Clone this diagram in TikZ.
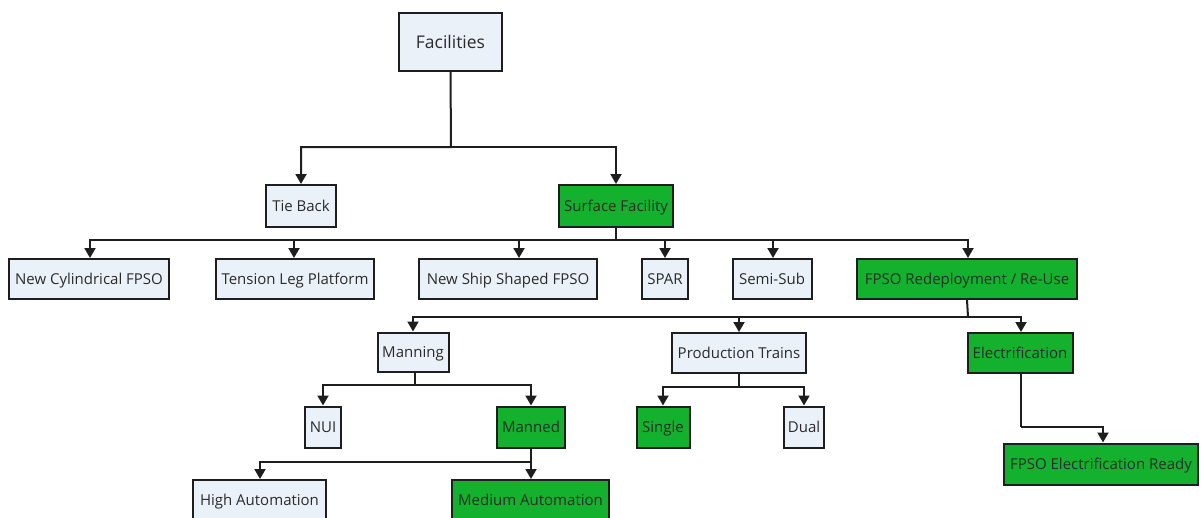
\documentclass[tikz,border=0pt]{standalone}
\usepackage{fontspec}
\setmainfont{Open Sans}
\usetikzlibrary{arrows.meta}
\definecolor{lite}{HTML}{EBF1F8}
\definecolor{grn}{HTML}{13B12E}
\definecolor{edge}{HTML}{1E1E1E}
\definecolor{ink}{HTML}{2B2B2B}
\begin{document}
\begin{tikzpicture}[x=1pt,y=-1pt,
  box/.style={draw=edge,line width=2pt,inner sep=0pt,text=ink,
    text height=14.25pt,text depth=3.54pt,font=\fontsize{15}{18}\selectfont},
  litebox/.style={box,fill=lite},
  grnbox/.style={box,fill=grn},
  arr/.style={draw=edge,line width=2pt,-{Triangle[width=11pt,length=10pt]}},
  ln/.style={draw=edge,line width=2pt}]
\useasboundingbox (0,0) rectangle (1201,517);
\clip (0,0) rectangle (1201,517);
\fill[white] (0,0) rectangle (1201,517);

% level 0
\node[litebox,minimum width=103pt,minimum height=58pt,text height=16.6pt,text depth=4.1pt,
  font=\fontsize{17.5}{20}\selectfont] (fac) at (450.5,42) {Facilities};
% level 1
\node[litebox,minimum width=70pt,minimum height=42pt] (tb) at (301,206) {Tie Back};
\node[grnbox,minimum width=114pt,minimum height=42pt] (sf) at (616,206) {Surface Facility};
% level 2
\node[litebox,minimum width=160pt,minimum height=40pt] (ncf) at (89,279) {New Cylindrical FPSO};
\node[litebox,minimum width=158pt,minimum height=40pt] (tlp) at (295,279) {Tension Leg Platform};
\node[litebox,minimum width=178pt,minimum height=40pt] (nss) at (508,279) {New Ship Shaped FPSO};
\node[litebox,minimum width=46pt,minimum height=40pt] (spar) at (665,279) {SPAR};
\node[litebox,minimum width=79pt,minimum height=40pt] (semi) at (772,279) {Semi-Sub};
\node[grnbox,minimum width=220pt,minimum height=40pt] (fred) at (967,279) {FPSO Redeployment / Re-Use};
% level 3
\node[litebox,minimum width=71pt,minimum height=39pt] (man) at (413,352) {Manning};
\node[litebox,minimum width=134pt,minimum height=40pt] (pt) at (739,353) {Production Trains};
\node[grnbox,minimum width=105pt,minimum height=40pt] (el) at (1020,353) {Electrification};
% level 4
\node[litebox,minimum width=36pt,minimum height=41pt] (nui) at (323,427) {NUI};
\node[grnbox,minimum width=68pt,minimum height=41pt] (mand) at (531,427) {Manned};
\node[grnbox,minimum width=53pt,minimum height=41pt] (single) at (663,427) {Single};
\node[litebox,minimum width=40pt,minimum height=41pt] (dual) at (804,427) {Dual};
\node[grnbox,minimum width=194pt,minimum height=41pt] (fer) at (1101,464) {FPSO Electrification Ready};
% level 5
\node[litebox,minimum width=133pt,minimum height=40pt] (ha) at (259.5,500) {High Automation};
\node[grnbox,minimum width=157pt,minimum height=40pt] (ma) at (530.5,500) {Medium Automation};

% connectors
\coordinate (j0) at (451,147);
\draw[arr] (fac.south) -- (j0) -| (tb.north);
\draw[arr] (j0) -| (sf.north);

\coordinate (j1) at (616,240);
\draw[ln] (sf.south) -- (j1);
\draw[arr] (j1) -| ([xshift=1pt]ncf.north);
\draw[arr] (j1) -| ([xshift=-1pt]tlp.north);
\draw[arr] (j1) -| ([xshift=11pt]nss.north);
\draw[arr] (j1) -| (spar.north);
\draw[arr] (j1) -| ([xshift=1pt]semi.north);
\draw[arr] (j1) -| ([xshift=1pt]fred.north);

\coordinate (j2) at (968,317);
\draw[ln] (fred.south) -- (j2);
\draw[arr] (j2) -| (man.north);
\draw[arr] (j2) -| (pt.north);
\draw[arr] (j2) -| ([xshift=1pt]el.north);

\coordinate (j3) at (415,385);
\draw[ln] ([xshift=2pt]man.south) -- (j3);
\draw[arr] (j3) -| (nui.north);
\draw[arr] (j3) -| (mand.north);

\coordinate (j4) at (739,387);
\draw[ln] (pt.south) -- (j4);
\draw[arr] (j4) -| (single.north);
\draw[arr] (j4) -| (dual.north);

\coordinate (j5) at (1021,427);
\draw[ln] ([xshift=1pt]el.south) -- (j5);
\draw[arr] (j5) -| ([xshift=2pt]fer.north);

\coordinate (j6) at (531,462);
\draw[ln] (mand.south) -- (j6);
\draw[arr] (j6) -| ([xshift=0.5pt]ha.north);
\draw[arr] (j6) -| ([xshift=0.5pt]ma.north);
\end{tikzpicture}
\end{document}
